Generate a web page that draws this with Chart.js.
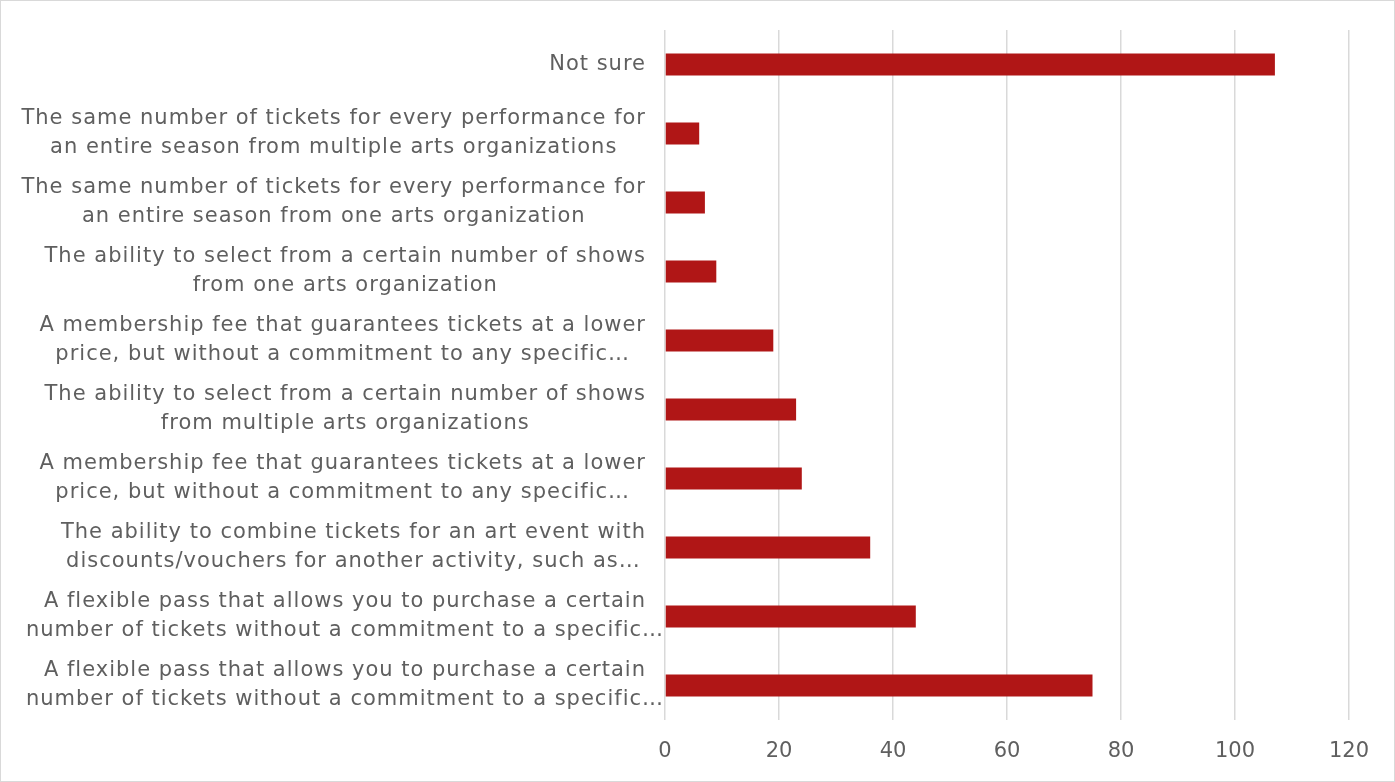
<!DOCTYPE html>
<html>
<head>
<meta charset="utf-8">
<script src="https://cdn.jsdelivr.net/npm/chart.js@4/dist/chart.umd.min.js"></script>
<style>
  html, body { margin: 0; padding: 0; background: #fff; }
  #wrap {
    width: 1395px; height: 782px;
    box-sizing: border-box;
    border: 1px solid #d9d9d9;
  }
  canvas { display: block; }
</style>
</head>
<body>
<div id="wrap"><canvas id="ticketChart" width="1393" height="780"></canvas></div>
<script>
// survey answers, top to bottom, each wrapped into display lines
const categories = [
    ["Not sure"],
    ["The same number of tickets for every performance for", "an entire season from multiple arts organizations"],
    ["The same number of tickets for every performance for", "an entire season from one arts organization"],
    ["The ability to select from a certain number of shows", "from one arts organization"],
    ["A membership fee that guarantees tickets at a lower", "price, but without a commitment to any specific\u2026"],
    ["The ability to select from a certain number of shows", "from multiple arts organizations"],
    ["A membership fee that guarantees tickets at a lower", "price, but without a commitment to any specific\u2026"],
    ["The ability to combine tickets for an art event with", "discounts/vouchers for another activity, such as\u2026"],
    ["A flexible pass that allows you to purchase a certain", "number of tickets without a commitment to a specific\u2026"],
    ["A flexible pass that allows you to purchase a certain", "number of tickets without a commitment to a specific\u2026"]
];
const responses = [107, 6, 7, 9, 19, 23, 24, 36, 44, 75];
const xTicks = [0, 20, 40, 60, 80, 100, 120];

const TEXT = "#5f5f5f";
const FONT_FAMILY = "'DejaVu Sans', sans-serif";
const FONT_SIZE = 21;
const LINE_H = 29;
const LABEL_RIGHT = 645;

// category labels: each block right-aligned to the axis, lines centred inside the block;
// truncated lines (ending in an ellipsis) don't widen the block and may run past it
const wrappedLabels = {
    id: "wrappedLabels",
    afterDraw(chart) {
        const { ctx, scales: { y } } = chart;
        ctx.save();
        ctx.font = FONT_SIZE + "px " + FONT_FAMILY;
        ctx.letterSpacing = "1px";
        ctx.fillStyle = TEXT;
        ctx.textAlign = "center";
        ctx.textBaseline = "middle";
        categories.forEach((lines, i) => {
            const cy = y.getPixelForValue(i);
            const full = lines.filter(l => !l.endsWith("\u2026"));
            const w = Math.max(...(full.length ? full : lines).map(l => ctx.measureText(l).width));
            const cx = LABEL_RIGHT - w / 2;
            lines.forEach((line, k) => {
                ctx.fillText(line, cx, cy + (k - (lines.length - 1) / 2) * LINE_H);
            });
        });
        ctx.restore();
    }
};

new Chart(document.getElementById("ticketChart"), {
    type: "bar",
    data: {
        labels: categories,
        datasets: [{
            data: responses,
            backgroundColor: "#b01616",
            borderWidth: 0,
            barPercentage: 0.32,
            categoryPercentage: 1
        }]
    },
    options: {
        indexAxis: "y",
        responsive: false,
        animation: false,
        layout: { padding: { top: 29, right: 45, left: 0, bottom: 0 } },
        plugins: {
            legend: { display: false },
            tooltip: { enabled: false }
        },
        scales: {
            x: {
                min: xTicks[0],
                max: xTicks[xTicks.length - 1],
                afterBuildTicks: s => { s.ticks = xTicks.map(v => ({ value: v })); },
                afterFit: s => { s.height = 61; },
                border: { display: false },
                grid: { color: "#d9d9d9", lineWidth: 1.5, drawTicks: false },
                ticks: {
                    color: TEXT,
                    padding: 19,
                    font: { family: FONT_FAMILY, size: FONT_SIZE }
                }
            },
            y: {
                afterFit: s => { s.width = 664; },
                border: { display: false },
                grid: { display: false },
                ticks: { display: false }
            }
        }
    },
    plugins: [wrappedLabels]
});
</script>
</body>
</html>
